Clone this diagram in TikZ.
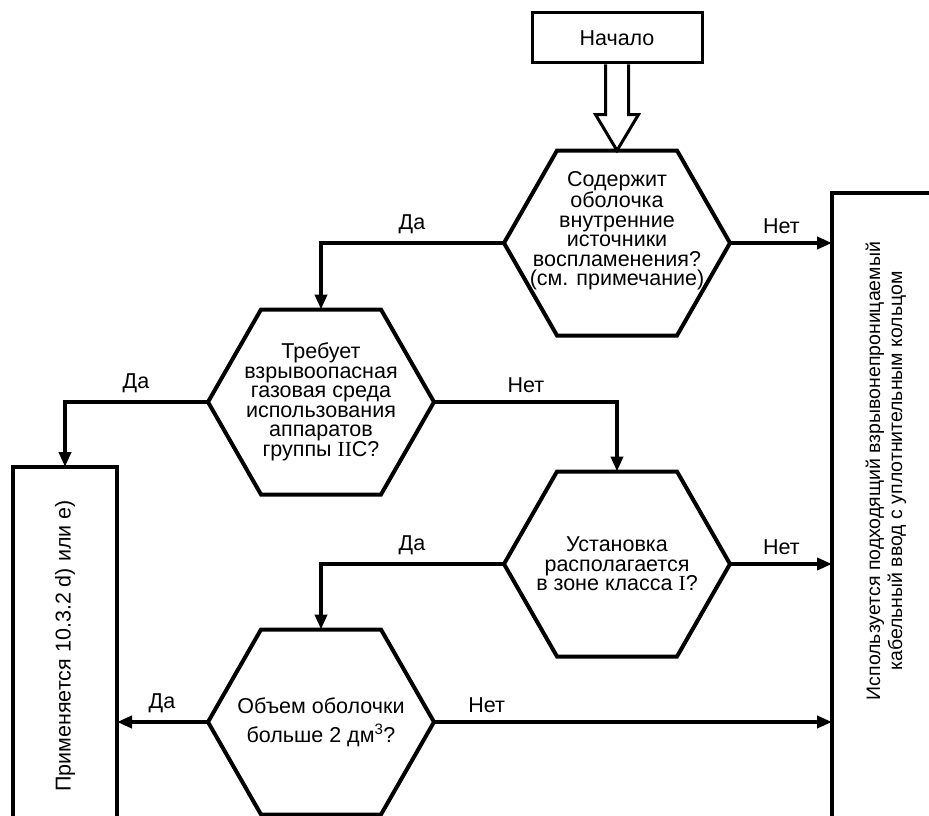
\documentclass[tikz,border=0pt]{standalone}
\usepackage{fontspec}
\setmainfont{Liberation Sans}
\newfontfamily\romfont{Liberation Serif}
\usetikzlibrary{arrows.meta}

% hexagon round a node h: vertices at h.west and h.east
\newcommand{\hexline}[1]{\draw ([xshift=1pt]#1.west) -- ([xshift=-60pt]#1.north) -- ([xshift=60pt]#1.north)
	-- ([xshift=-1pt]#1.east) -- ([xshift=60pt]#1.south) -- ([xshift=-60pt]#1.south) -- cycle;}

\begin{document}
\begin{tikzpicture}[x=1pt, y=-1pt, line width=4pt,
		every node/.style={font=\fontsize{21.5}{19.5}\selectfont},
		hexa/.style={minimum width=228pt, minimum height=185pt, inner sep=0pt, outer sep=0pt, align=center},
		startbox/.style={draw, line width=3pt, minimum width=170pt, minimum height=50pt},
		resbox/.style={draw, outer sep=0pt},
		arr/.style={-{Triangle[length=15pt,width=12pt]}},
		lbl/.style={above, inner sep=7pt}]
		\clip (0,0) rectangle (929,816);
		\node[startbox] (start) at (617,38) {Начало};
		\node[hexa, label={[align=center, yshift=12pt]center:{Содержит\\оболочка\\внутренние\\источники\\воспламенения?\\(см. примечание)}}] (h1) at (617,243) {};
		\node[hexa] (h2) at (321,402) {Требует\\взрывоопасная\\газовая среда\\использования\\аппаратов\\группы {\romfont II}C?};
		\node[hexa] (h3) at (617,564) {Установка\\располагается\\в зоне класса {\romfont I}?};
		\node[hexa] (h4) at (321,722) {Объем оболочки\\[9pt]больше 2 дм\textsuperscript{3}?};
		\hexline{h1}
		\hexline{h2}
		\hexline{h3}
		\hexline{h4}
		% boxes at the sides
		\node[resbox, minimum width=104pt, minimum height=380pt, anchor=north] (resA) at (65,467) {};
		\node[rotate=90] (resAtxt) at (65,646) {Применяется 10.3.2 d) или e)};
		\node[resbox, minimum width=130pt, minimum height=660pt, anchor=north west] (resB) at (832,193) {};
		\node[rotate=90, align=center, font=\fontsize{19.5}{22}\selectfont] (resBtxt) at (886,471) {Используется подходящий взрывонепроницаемый\\кабельный ввод с уплотнительным кольцом};
		% hollow arrow from start
		\draw[line width=3pt] ([xshift=-11.5pt]start.south) -- ++(0,50) -- ++(-10,0) -- (h1.north)
			-- ([xshift=21.5pt, yshift=-50pt]start.south) -- ++(-10,0) -- ([xshift=11.5pt]start.south);
		\draw[arr] (h1.west) -| (h2.north) node[pos=0.25, lbl] {Да};
		\draw[arr] (h1.east) -- (h1.east -| resB.west) node[midway, lbl] {Нет};
		\draw[arr] (h2.west) -| (resA.north) node[pos=0.25, lbl] {Да};
		\draw[arr] (h2.east) -| (h3.north) node[pos=0.25, lbl] {Нет};
		\draw[arr] (h3.west) -| (h4.north) node[pos=0.25, lbl] {Да};
		\draw[arr] (h3.east) -- (h3.east -| resB.west) node[midway, lbl] {Нет};
		\draw[arr] (h4.west) -- (h4.west -| resA.east) node[midway, lbl] {Да};
		\draw[arr] (h4.east) -- (h4.east -| resB.west) node[pos=0.13, lbl] {Нет};
\end{tikzpicture}
\end{document}
